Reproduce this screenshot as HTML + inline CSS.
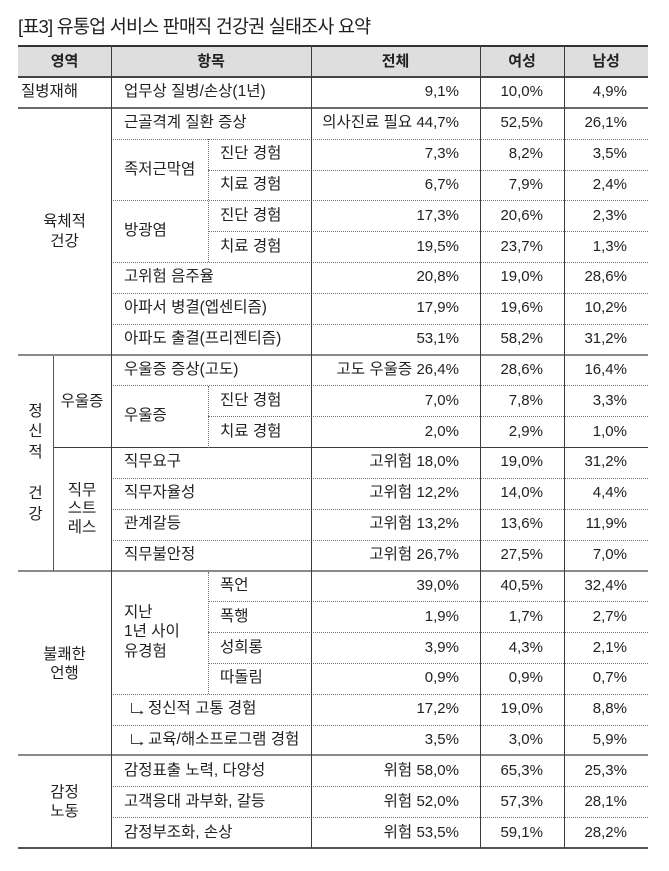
<!DOCTYPE html>
<html lang="ko"><head><meta charset="utf-8">
<style>
*{margin:0;padding:0;box-sizing:border-box}
html,body{width:669px;height:871px;background:#fff;overflow:hidden}
body{position:relative;font-family:"Liberation Sans","Noto Sans CJK KR",sans-serif;color:#222;font-size:15.5px}
.t{position:absolute;left:18px;top:14px;font-size:18.5px;letter-spacing:-0.8px;line-height:26px;color:#1e1e1e;white-space:nowrap}
.hd{position:absolute;top:46px;height:31px;left:18px;width:630px;background:#dedede}
.hc{position:absolute;top:46px;height:31px;display:flex;align-items:center;justify-content:center;font-weight:bold;line-height:20px;font-size:15px}
.h{position:absolute;height:0;border-top:1px dotted #707070}
.s{position:absolute;height:2px;background:#8a8a8a}
.sl{position:absolute;height:1px;background:#3c3c3c}
.v{position:absolute;width:1px;background:#3c3c3c}
.vd{position:absolute;width:0;border-left:1px dotted #707070}
.c{position:absolute;display:flex;align-items:center;height:30.84px;white-space:nowrap;line-height:20px}
.r{justify-content:flex-end}
.m{position:absolute;display:flex;align-items:center;justify-content:center;text-align:center;white-space:nowrap}
.n{font-size:15px}
.ar{margin-right:3px;flex:none}
</style></head><body>
<div class="t">[표3] 유통업 서비스 판매직 건강권 실태조사 요약</div>

<div class="hd"></div>
<div class="hc" style="left:18px;width:93px">영역</div>
<div class="hc" style="left:111px;width:200px">항목</div>
<div class="hc" style="left:311px;width:169px">전체</div>
<div class="hc" style="left:480px;width:84px">여성</div>
<div class="hc" style="left:564px;width:84px">남성</div>

<!-- borders -->
<div style="position:absolute;left:18px;width:630px;top:45px;height:2px;background:#333"></div>
<div style="position:absolute;left:18px;width:630px;top:76px;height:2px;background:#444"></div>
<div style="position:absolute;left:18px;width:630px;top:847px;height:2px;background:#555"></div>

<!-- section lines -->
<div class="s" style="left:18px;width:630px;top:107px;background:#6a6a6a"></div>
<div class="s" style="left:18px;width:630px;top:354px"></div>
<div class="s" style="left:18px;width:630px;top:570px"></div>
<div class="s" style="left:18px;width:630px;top:754px"></div>
<div class="sl" style="left:53px;width:595px;top:447px"></div>

<!-- dotted horizontal -->
<div class="h" style="left:111px;width:537px;top:139px"></div>
<div class="h" style="left:208px;width:440px;top:170px"></div>
<div class="h" style="left:111px;width:537px;top:200px"></div>
<div class="h" style="left:208px;width:440px;top:231px"></div>
<div class="h" style="left:111px;width:537px;top:262px"></div>
<div class="h" style="left:111px;width:537px;top:293px"></div>
<div class="h" style="left:111px;width:537px;top:324px"></div>
<div class="h" style="left:111px;width:537px;top:385px"></div>
<div class="h" style="left:208px;width:440px;top:416px"></div>
<div class="h" style="left:111px;width:537px;top:478px"></div>
<div class="h" style="left:111px;width:537px;top:509px"></div>
<div class="h" style="left:111px;width:537px;top:540px"></div>
<div class="h" style="left:208px;width:440px;top:601px"></div>
<div class="h" style="left:208px;width:440px;top:632px"></div>
<div class="h" style="left:208px;width:440px;top:663px"></div>
<div class="h" style="left:111px;width:537px;top:694px"></div>
<div class="h" style="left:111px;width:537px;top:725px"></div>
<div class="h" style="left:111px;width:537px;top:786px"></div>
<div class="h" style="left:111px;width:537px;top:817px"></div>

<!-- vertical lines -->
<div class="v" style="left:111px;top:46px;height:802px"></div>
<div class="v" style="left:311px;top:46px;height:802px"></div>
<div class="v" style="left:480px;top:46px;height:802px"></div>
<div class="v" style="left:564px;top:46px;height:802px"></div>
<div class="v" style="left:53px;top:356px;height:215px;background:#555"></div>
<div class="vd" style="left:208px;top:139px;height:123px"></div>
<div class="vd" style="left:208px;top:386px;height:62px"></div>
<div class="vd" style="left:208px;top:572px;height:122px"></div>

<!-- left column labels -->
<div class="c" style="left:21px;top:77px">질병재해</div>
<div class="m" style="left:18px;width:93px;top:109px;height:246px;line-height:20px">육체적<br>건강</div>
<div class="m" style="left:18px;width:35px;top:356px;height:215px;line-height:20.6px">정<br>신<br>적<br>&nbsp;<br>건<br>강</div>
<div class="m" style="left:53px;width:58px;top:356px;height:92px;line-height:20px">우울증</div>
<div class="m" style="left:53px;width:58px;top:448px;height:123px;line-height:18.5px">직무<br>스트<br>레스</div>
<div class="m" style="left:18px;width:93px;top:572px;height:183px;line-height:19px">불쾌한<br>언행</div>
<div class="m" style="left:18px;width:93px;top:756px;height:92px;line-height:19px">감정<br>노동</div>

<!-- item labels -->
<div class="c" style="left:124px;top:77px">업무상 질병/손상(1년)</div>
<div class="c" style="left:124px;top:107.84px">근골격계 질환 증상</div>
<div class="c" style="left:124px;top:138.68px;height:61.68px">족저근막염</div>
<div class="c" style="left:220px;top:138.68px">진단 경험</div>
<div class="c" style="left:220px;top:169.52px">치료 경험</div>
<div class="c" style="left:124px;top:200.36px;height:61.68px">방광염</div>
<div class="c" style="left:220px;top:200.36px">진단 경험</div>
<div class="c" style="left:220px;top:231.2px">치료 경험</div>
<div class="c" style="left:124px;top:262.04px">고위험 음주율</div>
<div class="c" style="left:124px;top:292.88px">아파서 병결(엡센티즘)</div>
<div class="c" style="left:124px;top:323.72px">아파도 출결(프리젠티즘)</div>
<div class="c" style="left:124px;top:354.56px">우울증 증상(고도)</div>
<div class="c" style="left:124px;top:385.4px;height:61.68px">우울증</div>
<div class="c" style="left:220px;top:385.4px">진단 경험</div>
<div class="c" style="left:220px;top:416.24px">치료 경험</div>
<div class="c" style="left:124px;top:447.08px">직무요구</div>
<div class="c" style="left:124px;top:477.92px">직무자율성</div>
<div class="c" style="left:124px;top:508.76px">관계갈등</div>
<div class="c" style="left:124px;top:539.6px">직무불안정</div>
<div class="c" style="left:124px;top:570.44px;height:123.36px;line-height:19.5px">지난<br>1년 사이<br>유경험</div>
<div class="c" style="left:220px;top:570.44px">폭언</div>
<div class="c" style="left:220px;top:601.28px">폭행</div>
<div class="c" style="left:220px;top:632.12px">성희롱</div>
<div class="c" style="left:220px;top:662.96px">따돌림</div>
<div class="c" style="left:130px;top:693.8px"><svg class="ar" width="15" height="14" viewBox="0 0 15 14"><path d="M1.5 1 V10.5 H13" fill="none" stroke="#444" stroke-width="1"/><path d="M10.5 8.5 L13.5 10.5 L10.5 12.5 Z" fill="#444"/></svg>정신적 고통 경험</div>
<div class="c" style="left:130px;top:724.64px"><svg class="ar" width="15" height="14" viewBox="0 0 15 14"><path d="M1.5 1 V10.5 H13" fill="none" stroke="#444" stroke-width="1"/><path d="M10.5 8.5 L13.5 10.5 L10.5 12.5 Z" fill="#444"/></svg>교육/해소프로그램 경험</div>
<div class="c" style="left:124px;top:755.48px">감정표출 노력, 다양성</div>
<div class="c" style="left:124px;top:786.32px">고객응대 과부화, 갈등</div>
<div class="c" style="left:124px;top:817.16px">감정부조화, 손상</div>

<!-- values: 전체 -->
<div class="c r" style="left:311px;width:148px;top:77px"><span class="n">9,1%</span></div>
<div class="c r" style="left:311px;width:148px;top:107.84px">의사진료 필요&nbsp;<span class="n">44,7%</span></div>
<div class="c r" style="left:311px;width:148px;top:138.68px"><span class="n">7,3%</span></div>
<div class="c r" style="left:311px;width:148px;top:169.52px"><span class="n">6,7%</span></div>
<div class="c r" style="left:311px;width:148px;top:200.36px"><span class="n">17,3%</span></div>
<div class="c r" style="left:311px;width:148px;top:231.2px"><span class="n">19,5%</span></div>
<div class="c r" style="left:311px;width:148px;top:262.04px"><span class="n">20,8%</span></div>
<div class="c r" style="left:311px;width:148px;top:292.88px"><span class="n">17,9%</span></div>
<div class="c r" style="left:311px;width:148px;top:323.72px"><span class="n">53,1%</span></div>
<div class="c r" style="left:311px;width:148px;top:354.56px">고도 우울증&nbsp;<span class="n">26,4%</span></div>
<div class="c r" style="left:311px;width:148px;top:385.4px"><span class="n">7,0%</span></div>
<div class="c r" style="left:311px;width:148px;top:416.24px"><span class="n">2,0%</span></div>
<div class="c r" style="left:311px;width:148px;top:447.08px">고위험&nbsp;<span class="n">18,0%</span></div>
<div class="c r" style="left:311px;width:148px;top:477.92px">고위험&nbsp;<span class="n">12,2%</span></div>
<div class="c r" style="left:311px;width:148px;top:508.76px">고위험&nbsp;<span class="n">13,2%</span></div>
<div class="c r" style="left:311px;width:148px;top:539.6px">고위험&nbsp;<span class="n">26,7%</span></div>
<div class="c r" style="left:311px;width:148px;top:570.44px"><span class="n">39,0%</span></div>
<div class="c r" style="left:311px;width:148px;top:601.28px"><span class="n">1,9%</span></div>
<div class="c r" style="left:311px;width:148px;top:632.12px"><span class="n">3,9%</span></div>
<div class="c r" style="left:311px;width:148px;top:662.96px"><span class="n">0,9%</span></div>
<div class="c r" style="left:311px;width:148px;top:693.8px"><span class="n">17,2%</span></div>
<div class="c r" style="left:311px;width:148px;top:724.64px"><span class="n">3,5%</span></div>
<div class="c r" style="left:311px;width:148px;top:755.48px">위험&nbsp;<span class="n">58,0%</span></div>
<div class="c r" style="left:311px;width:148px;top:786.32px">위험&nbsp;<span class="n">52,0%</span></div>
<div class="c r" style="left:311px;width:148px;top:817.16px">위험&nbsp;<span class="n">53,5%</span></div>

<!-- values: 여성 -->
<div class="c r" style="left:480px;width:63px;top:77px"><span class="n">10,0%</span></div>
<div class="c r" style="left:480px;width:63px;top:107.84px"><span class="n">52,5%</span></div>
<div class="c r" style="left:480px;width:63px;top:138.68px"><span class="n">8,2%</span></div>
<div class="c r" style="left:480px;width:63px;top:169.52px"><span class="n">7,9%</span></div>
<div class="c r" style="left:480px;width:63px;top:200.36px"><span class="n">20,6%</span></div>
<div class="c r" style="left:480px;width:63px;top:231.2px"><span class="n">23,7%</span></div>
<div class="c r" style="left:480px;width:63px;top:262.04px"><span class="n">19,0%</span></div>
<div class="c r" style="left:480px;width:63px;top:292.88px"><span class="n">19,6%</span></div>
<div class="c r" style="left:480px;width:63px;top:323.72px"><span class="n">58,2%</span></div>
<div class="c r" style="left:480px;width:63px;top:354.56px"><span class="n">28,6%</span></div>
<div class="c r" style="left:480px;width:63px;top:385.4px"><span class="n">7,8%</span></div>
<div class="c r" style="left:480px;width:63px;top:416.24px"><span class="n">2,9%</span></div>
<div class="c r" style="left:480px;width:63px;top:447.08px"><span class="n">19,0%</span></div>
<div class="c r" style="left:480px;width:63px;top:477.92px"><span class="n">14,0%</span></div>
<div class="c r" style="left:480px;width:63px;top:508.76px"><span class="n">13,6%</span></div>
<div class="c r" style="left:480px;width:63px;top:539.6px"><span class="n">27,5%</span></div>
<div class="c r" style="left:480px;width:63px;top:570.44px"><span class="n">40,5%</span></div>
<div class="c r" style="left:480px;width:63px;top:601.28px"><span class="n">1,7%</span></div>
<div class="c r" style="left:480px;width:63px;top:632.12px"><span class="n">4,3%</span></div>
<div class="c r" style="left:480px;width:63px;top:662.96px"><span class="n">0,9%</span></div>
<div class="c r" style="left:480px;width:63px;top:693.8px"><span class="n">19,0%</span></div>
<div class="c r" style="left:480px;width:63px;top:724.64px"><span class="n">3,0%</span></div>
<div class="c r" style="left:480px;width:63px;top:755.48px"><span class="n">65,3%</span></div>
<div class="c r" style="left:480px;width:63px;top:786.32px"><span class="n">57,3%</span></div>
<div class="c r" style="left:480px;width:63px;top:817.16px"><span class="n">59,1%</span></div>

<!-- values: 남성 -->
<div class="c r" style="left:564px;width:63px;top:77px"><span class="n">4,9%</span></div>
<div class="c r" style="left:564px;width:63px;top:107.84px"><span class="n">26,1%</span></div>
<div class="c r" style="left:564px;width:63px;top:138.68px"><span class="n">3,5%</span></div>
<div class="c r" style="left:564px;width:63px;top:169.52px"><span class="n">2,4%</span></div>
<div class="c r" style="left:564px;width:63px;top:200.36px"><span class="n">2,3%</span></div>
<div class="c r" style="left:564px;width:63px;top:231.2px"><span class="n">1,3%</span></div>
<div class="c r" style="left:564px;width:63px;top:262.04px"><span class="n">28,6%</span></div>
<div class="c r" style="left:564px;width:63px;top:292.88px"><span class="n">10,2%</span></div>
<div class="c r" style="left:564px;width:63px;top:323.72px"><span class="n">31,2%</span></div>
<div class="c r" style="left:564px;width:63px;top:354.56px"><span class="n">16,4%</span></div>
<div class="c r" style="left:564px;width:63px;top:385.4px"><span class="n">3,3%</span></div>
<div class="c r" style="left:564px;width:63px;top:416.24px"><span class="n">1,0%</span></div>
<div class="c r" style="left:564px;width:63px;top:447.08px"><span class="n">31,2%</span></div>
<div class="c r" style="left:564px;width:63px;top:477.92px"><span class="n">4,4%</span></div>
<div class="c r" style="left:564px;width:63px;top:508.76px"><span class="n">11,9%</span></div>
<div class="c r" style="left:564px;width:63px;top:539.6px"><span class="n">7,0%</span></div>
<div class="c r" style="left:564px;width:63px;top:570.44px"><span class="n">32,4%</span></div>
<div class="c r" style="left:564px;width:63px;top:601.28px"><span class="n">2,7%</span></div>
<div class="c r" style="left:564px;width:63px;top:632.12px"><span class="n">2,1%</span></div>
<div class="c r" style="left:564px;width:63px;top:662.96px"><span class="n">0,7%</span></div>
<div class="c r" style="left:564px;width:63px;top:693.8px"><span class="n">8,8%</span></div>
<div class="c r" style="left:564px;width:63px;top:724.64px"><span class="n">5,9%</span></div>
<div class="c r" style="left:564px;width:63px;top:755.48px"><span class="n">25,3%</span></div>
<div class="c r" style="left:564px;width:63px;top:786.32px"><span class="n">28,1%</span></div>
<div class="c r" style="left:564px;width:63px;top:817.16px"><span class="n">28,2%</span></div>
</body></html>
